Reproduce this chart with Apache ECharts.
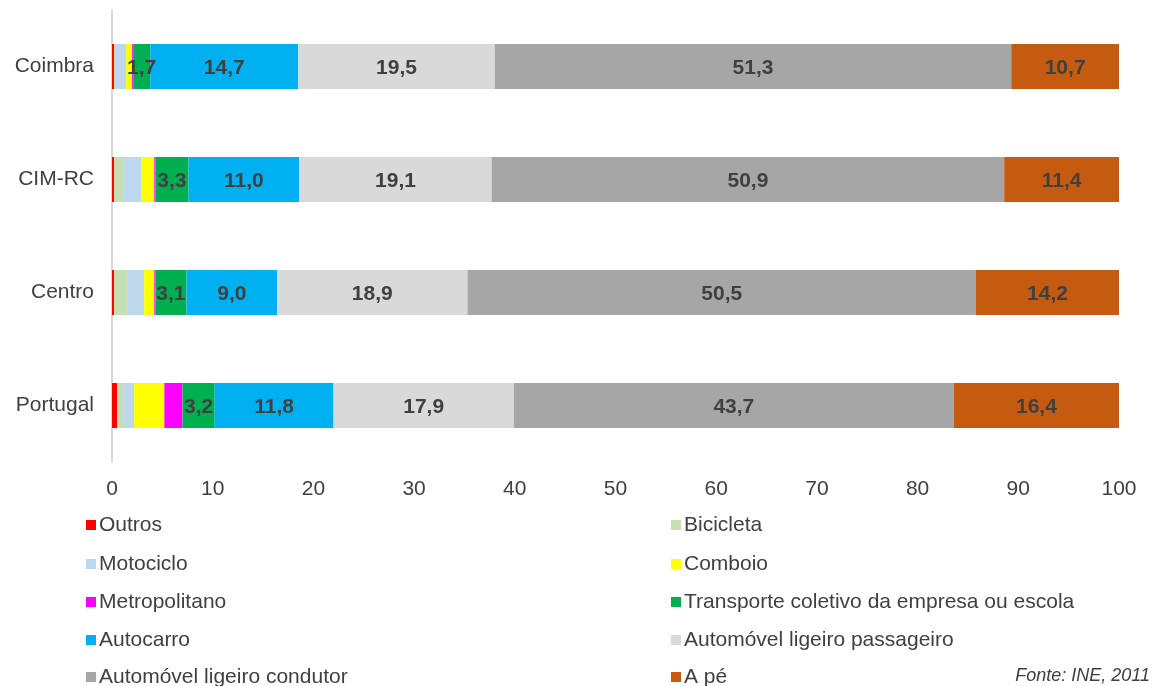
<!DOCTYPE html>
<html><head><meta charset="utf-8">
<script src="https://cdn.jsdelivr.net/npm/echarts@6/dist/echarts.min.js"></script>
<style>html,body{margin:0;padding:0;background:#fff}#c{width:1160px;height:686px}</style>
</head><body><div id="c"></div>
<script>
const categories = ['Coimbra', 'CIM-RC', 'Centro', 'Portugal'];
const outros = [0.2, 0.2, 0.2, 0.5];
const bicicleta = [0.1, 0.9, 1.3, 0.6];
const motociclo = [1.1, 1.8, 1.7, 1.1];
const comboio = [0.6, 1.3, 1.0, 3.0];
const metropolitano = [0.1, 0.1, 0.1, 1.8];
const transporte = [1.7, 3.3, 3.1, 3.2];
const autocarro = [14.7, 11.0, 9.0, 11.8];
const passageiro = [19.5, 19.1, 18.9, 17.9];
const condutor = [51.3, 50.9, 50.5, 43.7];
const ape = [10.7, 11.4, 14.2, 16.4];
const xTicks = [0, 10, 20, 30, 40, 50, 60, 70, 80, 90, 100];

const seriesDefs = [
  ['Outros', outros, '#FF0000', false],
  ['Bicicleta', bicicleta, '#C4DFB4', false],
  ['Motociclo', motociclo, '#BDD7EE', false],
  ['Comboio', comboio, '#FFFF00', false],
  ['Metropolitano', metropolitano, '#FF00FF', false],
  ['Transporte coletivo da empresa ou escola', transporte, '#00B050', true],
  ['Autocarro', autocarro, '#00B0F0', true],
  ['Automóvel ligeiro passageiro', passageiro, '#D9D9D9', true],
  ['Automóvel ligeiro condutor', condutor, '#A6A6A6', true],
  ['A pé', ape, '#C55A11', true]
];
const font = 'Liberation Sans, Arial, sans-serif';
const chart = echarts.init(document.getElementById('c'));
const rowCenters = [524, 563, 601, 639, 676];
const legends = seriesDefs.map((s, i) => ({
  left: i % 2 === 0 ? 86 : 671,
  top: rowCenters[Math.floor(i / 2)] - 11,
  padding: 0, itemWidth: 10, itemHeight: 10, itemGap: 0, icon: 'rect',
  textStyle: { fontFamily: font, fontSize: 21, color: '#404040', lineHeight: 24, padding: [0, 0, 0, -2] },
  selectedMode: false,
  data: [s[0]]
}));
chart.setOption({
  animation: false,
  grid: { left: 112, right: 41, top: 10, height: 452 },
  xAxis: {
    type: 'value', min: 0, max: 100, interval: 10,
    axisLine: { show: false }, axisTick: { show: false }, splitLine: { show: false },
    axisLabel: { fontFamily: font, fontSize: 21, color: '#404040', margin: 17,
      formatter: v => xTicks.includes(v) ? String(v) : '' }
  },
  yAxis: {
    type: 'category', data: categories, inverse: true,
    axisLine: { show: true, lineStyle: { color: '#D9D9D9', width: 2 } },
    axisTick: { show: false },
    axisLabel: { fontFamily: font, fontSize: 21, color: '#404040', margin: 18, padding: [3, 0, 0, 0] }
  },
  legend: legends,
  graphic: [{ type: 'text', right: 10, top: 667, style: { text: 'Fonte: INE, 2011', font: 'italic 18px Liberation Sans, Arial, sans-serif', fill: '#404040' } }],
  series: seriesDefs.map(([name, data, color, lab]) => ({
    name, type: 'bar', stack: 'total', data, barWidth: 45,
    itemStyle: { color },
    label: { show: lab, position: 'inside', offset: [0, 2], fontFamily: font, fontSize: 21, fontWeight: 'bold', color: '#404040',
      formatter: p => p.value.toFixed(1).replace('.', ',') }
  }))
});
</script></body></html>
